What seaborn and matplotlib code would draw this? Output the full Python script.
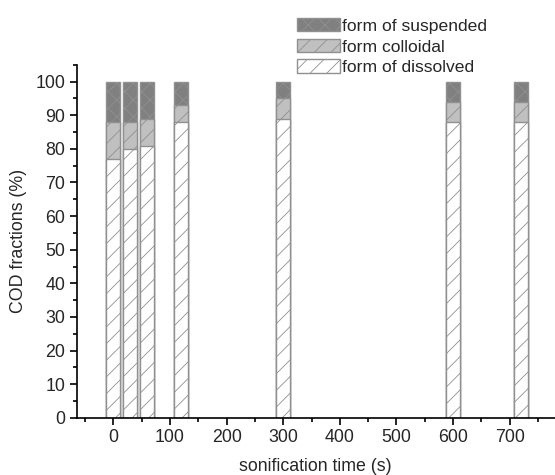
import pandas as pd
import matplotlib.pyplot as plt
import seaborn as sns
from matplotlib.patches import Patch
from matplotlib.ticker import MultipleLocator

# sonication times (s) and COD fractions (%), stacked
time_s = [0, 30, 60, 120, 300, 600, 720]
dissolved = [77, 80, 81, 88, 89, 88, 88]
colloidal = [11, 8, 8, 5, 6, 6, 6]
suspended = [12, 12, 11, 7, 5, 6, 6]

labels = ["form of suspended", "form colloidal", "form of dissolved"]

df = pd.DataFrame({"time": time_s, "dissolved": dissolved,
                   "colloidal": colloidal, "suspended": suspended})
df["top_colloidal"] = df["dissolved"] + df["colloidal"]
df["top_suspended"] = df["top_colloidal"] + df["suspended"]

sns.set_style("ticks")
plt.rcParams["font.family"] = ["Liberation Sans", "DejaVu Sans"]
plt.rcParams["hatch.color"] = "#3c3c3c"
plt.rcParams["hatch.linewidth"] = 0.6

fig = plt.figure(figsize=(5.55, 4.75), dpi=100)
ax = fig.add_axes([0.138, 0.1206, 0.862, 0.7428])

edge = "#909090"
layers = [("top_suspended", "#808080", "xx"),
          ("top_colloidal", "#c0c0c0", "//"),
          ("dissolved", "#ffffff", "//")]
for col, color, hatch in layers:
    n_before = len(ax.patches)
    sns.barplot(data=df, x="time", y=col, native_scale=True, width=25 / 30,
                color=color, edgecolor=edge, linewidth=1.0, saturation=1,
                errorbar=None, ax=ax)
    for p in ax.patches[n_before:]:
        p.set_hatch(hatch)

ax.set_xlim(-65, 780)
ax.set_ylim(0, 105)
ax.xaxis.set_major_locator(MultipleLocator(100))
ax.xaxis.set_minor_locator(MultipleLocator(50))
ax.yaxis.set_major_locator(MultipleLocator(10))
ax.yaxis.set_minor_locator(MultipleLocator(5))
ax.set_xticks(range(0, 701, 100))
ax.tick_params(which="major", direction="out", length=5, width=1.2,
               labelsize=12.8, color="black", pad=3)
ax.tick_params(which="minor", direction="out", length=3, width=1.2,
               color="black")
for s in ["top", "right"]:
    ax.spines[s].set_visible(False)
for s in ["left", "bottom"]:
    ax.spines[s].set_linewidth(1.2)
    ax.spines[s].set_color("black")

ax.set_xlabel("sonification time (s)", fontsize=12.8, labelpad=9)
ax.set_ylabel("COD fractions (%)", fontsize=12.8, labelpad=6)

handles = [Patch(facecolor=c, edgecolor=edge, hatch=h) for _, c, h in layers]
fig.legend(handles, labels, loc="upper left", bbox_to_anchor=(0.535, 0.962),
           frameon=False, fontsize=12.6, handlelength=2.45, handleheight=0.8,
           handletextpad=0.15, labelspacing=0.28, borderaxespad=0, borderpad=0)

fig.savefig("out.png", dpi=100)
